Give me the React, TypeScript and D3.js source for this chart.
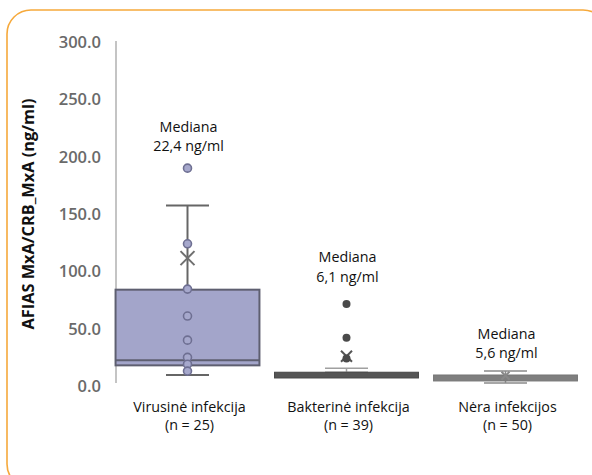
import React from "react";
import * as d3 from "d3";

const categories = ["Virusinė infekcija", "Bakterinė infekcija", "Nėra infekcijos"];
const counts = ["(n = 25)", "(n = 39)", "(n = 50)"];
const q1 = [18, 7, 4.4];
const median = [22.4, 6.1, 5.6];
const q3 = [84, 12, 9.6];
const whiskerLow = [9.5, 12, 2.6];
const whiskerHigh = [157.5, 15.5, 13];
const means = [111.5, 26, 9];
const medianLabels = ["22,4 ng/ml", "6,1 ng/ml", "5,6 ng/ml"];
const medianLabelValue = [226, 112.5, 45.5];
const virusPoints = [190, 124, 84.5, 61, 40, 25, 19, 13];
const bacteriaOutliers = [71.5, 42, 24];
const yTicks = [0, 50, 100, 150, 200, 250, 300];

const boxFill = ["#a3a5ca", "#555555", "#7f7f7f"];
const boxStroke = ["#5e5f70", "#454545", "#777777"];
const whiskerColor = ["#666666", "#a0a0a0", "#8a8a8a"];
const meanColor = ["#707070", "#555555", "#888888"];

export default function App() {
  const W = 592, H = 475;
  const y = d3.scaleLinear().domain([0, 300]).range([386, 42]);
  const x = d3.scaleBand<string>().domain(categories).range([108, 585]).padding(0);
  const bw = x.bandwidth() * 0.905;
  const capW = 43;
  const font = "'Open Sans', 'Noto Sans', sans-serif";
  const cx = (i: number) => (x(categories[i]) as number) + x.bandwidth() / 2;
  const fs = 14.3;

  return (
    <svg width={W} height={H} style={{ position: "absolute", left: 0, top: 0, background: "#fff" }}>
      <rect x={7} y={10} width={600} height={478} rx={24} ry={24} fill="none" stroke="#f6a93b" strokeWidth={1.6} />
      {/* y axis */}
      <line x1={116} x2={116} y1={y(300) - 1} y2={y(0) - 3} stroke="#c4c4c4" strokeWidth={2} />
      {yTicks.map((t) => (
        <text key={t} x={101} y={y(t)} dy="0.36em" textAnchor="end" fontFamily={font} fontSize={16.5} fontWeight={600} fill="#6a6a6a">
          {t.toFixed(1)}
        </text>
      ))}
      <text transform={`translate(34,${214}) rotate(-90)`} textAnchor="middle" fontFamily={font} fontSize={15.5} fontWeight={700} fill="#111" textLength={231} lengthAdjust="spacingAndGlyphs">
        AFIAS MxA/CRB_MxA (ng/ml)
      </text>
      {categories.map((c, i) => {
        const xc = cx(i);
        return (
          <g key={c}>
            <line x1={xc} x2={xc} y1={y(whiskerHigh[i])} y2={y(q3[i])} stroke={whiskerColor[i]} strokeWidth={i === 0 ? 2 : 1.5} />
            <line x1={xc} x2={xc} y1={y(q1[i])} y2={y(whiskerLow[i])} stroke={whiskerColor[i]} strokeWidth={i === 0 ? 2 : 1.5} />
            <line x1={xc - capW / 2} x2={xc + capW / 2} y1={y(whiskerHigh[i])} y2={y(whiskerHigh[i])} stroke={whiskerColor[i]} strokeWidth={i === 0 ? 2 : 1.5} />
            <line x1={xc - capW / 2} x2={xc + capW / 2} y1={y(whiskerLow[i])} y2={y(whiskerLow[i])} stroke={whiskerColor[i]} strokeWidth={i === 0 ? 2 : 1.5} />
            <rect x={xc - bw / 2} y={y(q3[i])} width={bw} height={y(q1[i]) - y(q3[i])} fill={boxFill[i]} stroke={boxStroke[i]} strokeWidth={i === 0 ? 2 : 1} />
            {i === 0 && (
              <line x1={xc - bw / 2} x2={xc + bw / 2} y1={y(median[i])} y2={y(median[i])} stroke={boxStroke[i]} strokeWidth={2} />
            )}
            <text x={xc + 2} y={407} dy="0.35em" textAnchor="middle" fontFamily={font} fontSize={fs} fill="#111">{c}</text>
            <text x={xc + 2} y={425} dy="0.35em" textAnchor="middle" fontFamily={font} fontSize={fs} fill="#111">{counts[i]}</text>
            <text x={xc + 1} y={y(medianLabelValue[i])} dy="0.35em" textAnchor="middle" fontFamily={font} fontSize={fs} fill="#111">Mediana</text>
            <text x={xc + 1} y={y(medianLabelValue[i]) + 19.5} dy="0.35em" textAnchor="middle" fontFamily={font} fontSize={fs} fill="#111">{medianLabels[i]}</text>
          </g>
        );
      })}
      {/* means */}
      {means.map((m, i) => {
        const s = i === 0 ? 7 : i === 1 ? 5.5 : 4;
        const xc = cx(i);
        const yy = y(m);
        return (
          <path key={i} d={`M${xc - s},${yy - s}L${xc + s},${yy + s}M${xc - s},${yy + s}L${xc + s},${yy - s}`} stroke={meanColor[i]} strokeWidth={2} fill="none" />
        );
      })}
      {virusPoints.map((v, k) => (
        <circle key={k} cx={cx(0)} cy={y(v)} r={4} fill="#a6a8cc" stroke="#6e6f92" strokeWidth={1.6} />
      ))}
      {bacteriaOutliers.map((v, k) => (
        <circle key={k} cx={cx(1)} cy={y(v)} r={4} fill="#4a4a4a" />
      ))}
    </svg>
  );
}
